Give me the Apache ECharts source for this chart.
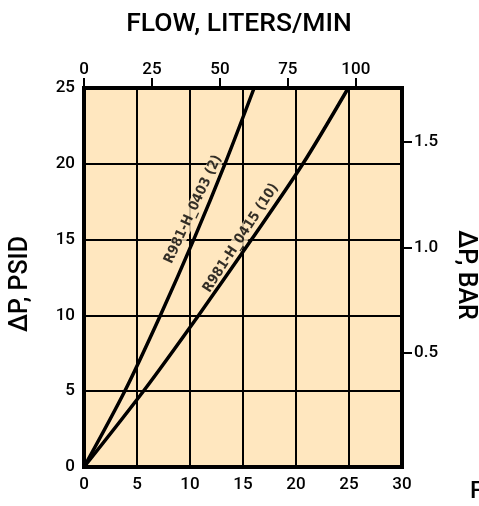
<!DOCTYPE html>
<html>
<head>
<meta charset="utf-8">
<script src="https://cdn.jsdelivr.net/npm/echarts@6/dist/echarts.min.js"></script>
<style>
  html, body { margin: 0; padding: 0; background: #fff; }
  #chart { width: 479px; height: 506px; }
</style>
</head>
<body>
<div id="chart"></div>
<script>
// pressure drop points (psid) and flow (gpm)
const psid = [0, 5, 10, 15, 20, 25]
const flow0403 = [0, 3.84, 7.2, 10.35, 13.3, 16.05]
const flow0415 = [0, 5.6, 10.8, 15.8, 20.65, 24.93]

const curveNames = ['R981-H_0403 (2)', 'R981-H_0415 (10)']
// where each curve's name sits, in gpm / psid, and its slant
const labelAt = [[10.3, 17.0], [14.8, 15.1]]
const labelRotate = [65, 57]

const lpmTicks = [0, 25, 50, 75, 100]
const barTicks = [0.5, 1.0, 1.5]

const FILL = '#ffe7bf'
const FONT = 'Roboto'

const pairs = (xs, ys) => xs.map((x, i) => [x, ys[i]])

const frame = { show: true, onZero: false, lineStyle: { color: '#000', width: 4, cap: 'square' } }
const tickText = { color: '#000', fontSize: 17, fontWeight: 500, fontFamily: FONT }

const chart = echarts.init(document.getElementById('chart'))

chart.setOption({
    animation: false,
    grid: { left: 84, right: 77, top: 88, bottom: 39, show: true, backgroundColor: FILL, borderWidth: 0 },
    xAxis: [{
        type: 'value', position: 'bottom', min: 0, max: 30, interval: 5,
        axisLine: frame, axisTick: { show: false },
        axisLabel: Object.assign({ margin: 9 }, tickText),
        splitLine: { show: true, lineStyle: { color: '#000', width: 2 } }
    }, {
        type: 'value', position: 'top', min: 0, max: 117,
        axisLine: frame,
        axisTick: { show: true, length: 10, customValues: lpmTicks, lineStyle: { color: '#000', width: 2 } },
        axisLabel: Object.assign({ margin: 10, customValues: lpmTicks }, tickText),
        splitLine: { show: false }
    }],
    yAxis: [{
        type: 'value', position: 'left', min: 0, max: 25, interval: 5,
        axisLine: frame, axisTick: { show: false },
        axisLabel: Object.assign({ margin: 9 }, tickText),
        splitLine: { show: true, lineStyle: { color: '#000', width: 2 } }
    }, {
        type: 'value', position: 'right', min: -0.038, max: 1.753,
        axisLine: frame,
        axisTick: { show: true, length: 10, customValues: barTicks, lineStyle: { color: '#000', width: 2 } },
        axisLabel: Object.assign({ margin: 12, customValues: barTicks, formatter: v => v.toFixed(1) }, tickText),
        splitLine: { show: false }
    }],
    graphic: [
        { type: 'text', x: 239, y: 24,
          style: { text: 'FLOW, LITERS/MIN', font: '500 26.5px ' + FONT, fill: '#000', align: 'center', verticalAlign: 'middle' } },
        { type: 'text', x: 21, y: 284, rotation: Math.PI / 2,
          style: { text: '\u0394P, PSID', font: '500 25px ' + FONT, fill: '#000', align: 'center', verticalAlign: 'middle' } },
        { type: 'text', x: 465, y: 275, rotation: -Math.PI / 2,
          style: { text: '\u0394P, BAR', font: '500 25px ' + FONT, fill: '#000', align: 'center', verticalAlign: 'middle' } },
        { type: 'text', x: 470, y: 492,
          style: { text: 'FLOW, GPM', font: '500 24px ' + FONT, fill: '#000', align: 'left', verticalAlign: 'middle' } }
    ],
    series: [
        ...[flow0403, flow0415].map((fl, i) => ({
            type: 'line', name: curveNames[i], z: 5,
            data: pairs(fl, psid), smooth: 0.3, symbol: 'none',
            lineStyle: { color: '#000', width: 3.5 }
        })),
        ...labelAt.map((p, i) => ({
            type: 'scatter', z: 4, symbolSize: 0, silent: true,
            data: [p],
            label: {
                show: true, position: 'inside', rotate: labelRotate[i],
                formatter: curveNames[i], color: '#000', fontSize: 14, fontWeight: 'bold',
                fontFamily: "'DejaVu Sans Condensed', 'Liberation Sans Narrow', sans-serif",
                backgroundColor: FILL, padding: [0, 2]
            }
        }))
    ]
})
</script>
</body>
</html>
